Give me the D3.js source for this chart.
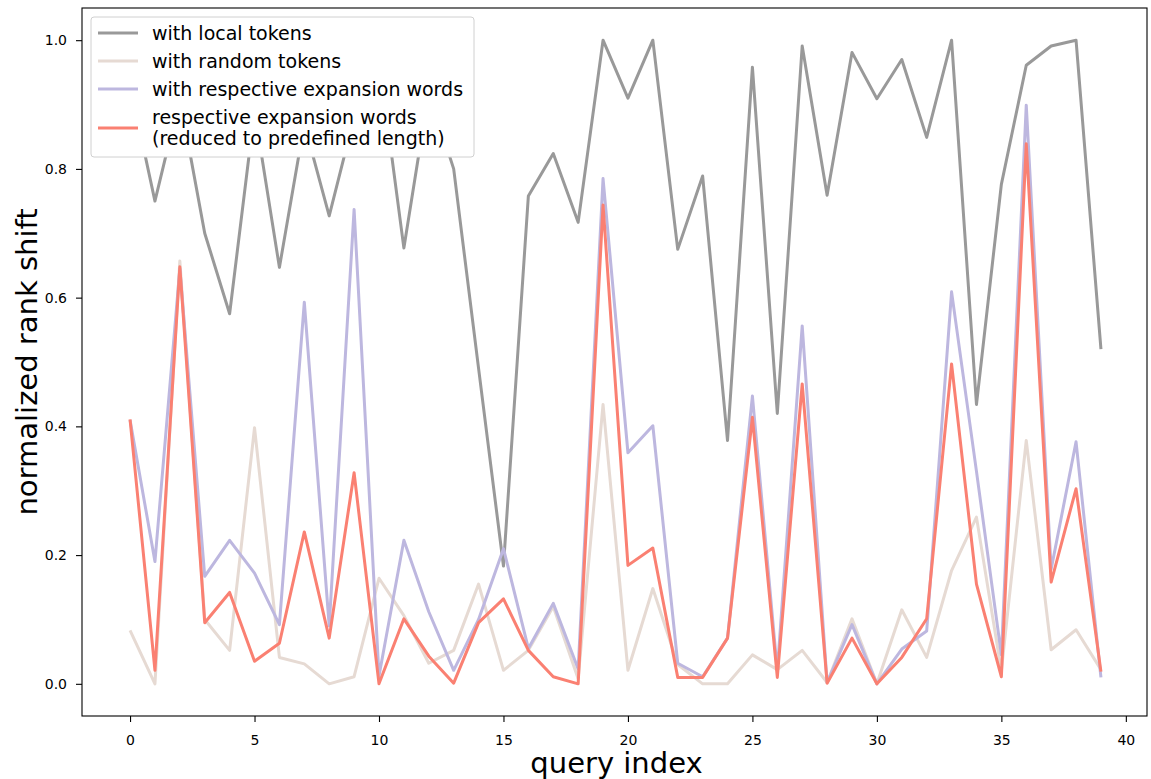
<!DOCTYPE html>
<html>
<head>
<meta charset="utf-8">
<script src="https://cdn.jsdelivr.net/npm/d3@7"></script>
<style>
  html, body { margin: 0; padding: 0; background: #fff; }
  svg { display: block; font-family: "DejaVu Sans", sans-serif; }
</style>
</head>
<body>
<svg id="chart" width="1151" height="779"></svg>
<script>
// Query indices 0..39
const queryIndex = d3.range(40);

// Normalized rank shift per query for each perturbation
const localTokens = [0.93, 0.75, 0.91, 0.70, 0.575, 0.89, 0.647, 0.87, 0.727, 0.88,
  0.97, 0.677, 0.92, 0.80, 0.49, 0.183, 0.758, 0.824, 0.717, 1.0,
  0.91, 1.0, 0.675, 0.789, 0.378, 0.958, 0.42, 0.991, 0.759, 0.981,
  0.909, 0.97, 0.849, 1.0, 0.434, 0.776, 0.961, 0.991, 1.0, 0.52];

const randomTokens = [0.083, 0.0, 0.657, 0.10, 0.052, 0.398, 0.041, 0.031, 0.0, 0.011,
  0.164, 0.106, 0.032, 0.052, 0.155, 0.021, 0.052, 0.12, 0.008, 0.434,
  0.021, 0.148, 0.03, 0.0, 0.0, 0.045, 0.022, 0.052, 0.002, 0.101,
  0.0, 0.115, 0.041, 0.176, 0.259, 0.02, 0.378, 0.053, 0.084, 0.022];

const expansionWords = [0.41, 0.19, 0.645, 0.167, 0.223, 0.172, 0.092, 0.593, 0.09, 0.737,
  0.012, 0.223, 0.112, 0.021, 0.10, 0.21, 0.055, 0.125, 0.023, 0.785,
  0.359, 0.401, 0.032, 0.011, 0.071, 0.447, 0.02, 0.556, 0.002, 0.092,
  0.0, 0.054, 0.082, 0.609, 0.33, 0.045, 0.899, 0.178, 0.376, 0.01];

const reducedExpansion = [0.411, 0.021, 0.648, 0.095, 0.142, 0.035, 0.063, 0.236, 0.071, 0.328,
  0.0, 0.101, 0.043, 0.001, 0.095, 0.132, 0.052, 0.011, 0.0, 0.744,
  0.184, 0.211, 0.01, 0.01, 0.071, 0.414, 0.01, 0.466, 0.001, 0.071,
  0.0, 0.041, 0.101, 0.497, 0.155, 0.011, 0.839, 0.158, 0.303, 0.019];

const seriesNames = [
  "with local tokens",
  "with random tokens",
  "with respective expansion words",
  ["respective expansion words", "(reduced to predefined length)"]
];
const seriesColors = ["#999999", "#e6dad3", "#bdb7df", "#fa8072"];
const seriesValues = [localTokens, randomTokens, expansionWords, reducedExpansion];

const xTicks = [0, 5, 10, 15, 20, 25, 30, 35, 40];
const yTicks = [0.0, 0.2, 0.4, 0.6, 0.8, 1.0];

const svg = d3.select("#chart");
const frame = { left: 82, right: 1147, top: 8, bottom: 716 };

const x = d3.scaleLinear().domain([-1.93, 40.85]).range([frame.left, frame.right]);
const y = d3.scaleLinear().domain([-0.05, 1.05]).range([frame.bottom, frame.top]);

// Plot lines
const line = d3.line().x((d, i) => x(queryIndex[i])).y(d => y(d));
const plot = svg.append("g");
seriesValues.forEach((vals, k) => {
  plot.append("path")
    .datum(vals)
    .attr("d", line)
    .attr("fill", "none")
    .attr("stroke", seriesColors[k])
    .attr("stroke-width", 3)
    .attr("stroke-linejoin", "round")
    .attr("stroke-linecap", "butt");
});

// Axes
const xAxis = svg.append("g")
  .attr("transform", `translate(0,${frame.bottom})`)
  .call(d3.axisBottom(x).tickValues(xTicks).tickFormat(d3.format("d")).tickSize(6).tickPadding(13));
const yAxis = svg.append("g")
  .attr("transform", `translate(${frame.left},0)`)
  .call(d3.axisLeft(y).tickValues(yTicks).tickFormat(d3.format(".1f")).tickSize(6).tickPadding(9));
[xAxis, yAxis].forEach(g => {
  g.select(".domain").remove();
  g.selectAll(".tick line").attr("stroke", "#000").attr("stroke-width", 1.1);
  g.selectAll(".tick text").attr("fill", "#000").style("font-size", "14px")
    .style("font-family", "DejaVu Sans, sans-serif");
});

// Frame
svg.append("rect")
  .attr("x", frame.left).attr("y", frame.top)
  .attr("width", frame.right - frame.left).attr("height", frame.bottom - frame.top)
  .attr("fill", "none").attr("stroke", "#000").attr("stroke-width", 1.1);

// Axis titles
svg.append("text")
  .attr("x", (frame.left + frame.right) / 2 + 2).attr("y", 773)
  .attr("text-anchor", "middle")
  .style("font-size", "29px")
  .text("query index");
svg.append("text")
  .attr("transform", `translate(37,${(frame.top + frame.bottom) / 2}) rotate(-90)`)
  .attr("text-anchor", "middle")
  .style("font-size", "29px")
  .text("normalized rank shift");

// Legend, drawn opaque over the lines
const legend = svg.append("g");
legend.append("rect")
  .attr("x", 91).attr("y", 17).attr("width", 383).attr("height", 140)
  .attr("rx", 3).attr("ry", 3)
  .style("fill", "#ffffff").style("fill-opacity", 1)
  .style("stroke", "#d0d0d0").style("stroke-width", 1);
const rowY = [33, 61, 89, 128];
seriesNames.forEach((name, k) => {
  legend.append("line")
    .attr("x1", 98).attr("x2", 138)
    .attr("y1", rowY[k]).attr("y2", rowY[k])
    .attr("stroke", seriesColors[k]).attr("stroke-width", 3);
  const t = legend.append("text")
    .attr("x", 152).attr("y", rowY[k])
    .style("font-size", "19px").attr("fill", "#000");
  if (Array.isArray(name)) {
    t.append("tspan").attr("x", 152).attr("dy", "-0.22em").text(name[0]);
    t.append("tspan").attr("x", 152).attr("dy", "1.1em").text(name[1]);
  } else {
    t.attr("dy", "0.36em").text(name);
  }
});
</script>
</body>
</html>
